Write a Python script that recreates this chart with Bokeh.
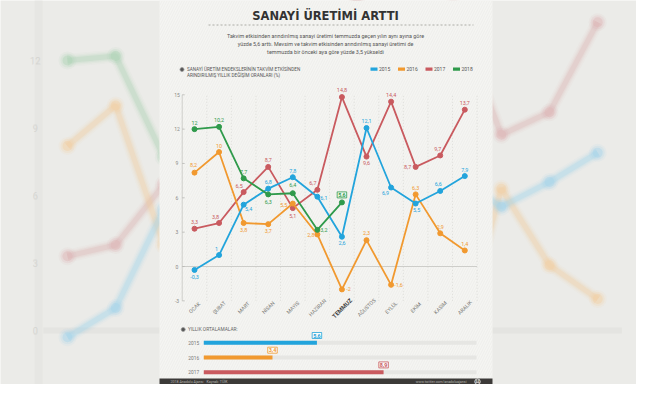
import math
from bokeh.plotting import figure
from bokeh.models import Range1d, ColumnDataSource
from bokeh.core.properties import value
from bokeh.embed import file_html
from bokeh.resources import INLINE

# ---------------- data ----------------
months = ["OCAK", "ŞUBAT", "MART", "NİSAN", "MAYIS", "HAZİRAN", "TEMMUZ",
          "AĞUSTOS", "EYLÜL", "EKİM", "KASIM", "ARALIK"]
y2015 = [-0.3, 1, 5.4, 6.8, 7.8, 6.1, 2.6, 12.1, 6.9, 5.5, 6.6, 7.9]
y2016 = [8.2, 10, 3.8, 3.7, 5.5, 2.8, -2, 2.3, -1.6, 6.3, 2.9, 1.4]
y2017 = [3.3, 3.8, 6.5, 8.7, 5.1, 6.7, 14.8, 9.6, 14.4, 8.7, 9.7, 13.7]
y2018 = [12, 12.2, 7.7, 6.3, 6.4, 3.2, 5.6]
labels2018 = ["12", "10,2", "7,7", "6,3", "6,4", "3,2", "5,6"]
years = ["2015", "2016", "2017", "2018"]
avg_years = ["2015", "2016", "2017"]
avg_values = [5.6, 3.4, 8.9]
yticks = [-3, 0, 3, 6, 9, 12, 15]

title = "SANAYİ ÜRETİMİ ARTTI"
subtitle = ["Takvim etkisinden arındırılmış sanayi üretimi temmuzda geçen yılın aynı ayına göre",
            "yüzde 5,6 arttı. Mevsim ve takvim etkisinden arındırılmış sanayi üretimi de",
            "temmuzda bir önceki aya göre yüzde 3,5 yükseldi"]
legend_title = ["SANAYİ ÜRETİM ENDEKSLERİNİN TAKVİM ETKİSİNDEN",
                "ARINDIRILMIŞ YILLIK DEĞİŞİM ORANLARI (%)"]
avg_title = "YILLIK ORTALAMALAR:"
footer_left = ["2018 Anadolu Ajansı", "Kaynak: TÜİK"]
footer_right = "www.twitter.com/anadoluajansi"

# ---------------- styles / label placement ----------------
colors = ["#22a4dc", "#f1992f", "#c95a5f", "#2f9a4b"]
bg_colors = ["#9fd2ea", "#f3cb9c", "#dcaeb0", "#a6d0b0"]
off2015 = [(0, 7), (-2.5, -6), (5, 4), (0, -6.5), (0, -6), (6.5, 1), (0, 6.5),
           (0, -6.5), (-5.5, 5.5), (1, 6.5), (-2, -6.5), (0, -6)]
off2016 = [(-1, -7.5), (0, -6.5), (0, 6.5), (0, 7), (-9, 1), (-6.5, 0.5), (6.5, 0),
           (0, -7), (7.5, 0.5), (0, -6.5), (0, -6.5), (0, -6.5)]
off2017 = [(0, -6.5), (-3.5, -6.5), (-4.5, -6), (0, -7), (0, 7.5), (-4.5, -7), (0, -7),
           (0, 6.5), (0, -7), (-8, 0.5), (-2.5, -6), (0, -6.5)]
off2018 = [(0, -6.5), (0, -6.5), (0, -6.5), (0, 7.5), (0, -8.5), (6.5, 0), (0, -7.5)]

FONT = value("Roboto")
W, H = 636, 384


def xr(v0, X0, v1, X1):
    s = (v1 - v0) / (X1 - X0)
    return Range1d(v0 - X0 * s, v0 + (W - X0) * s)


def yr(v0, Y0, v1, Y1):
    s = (v1 - v0) / (Y0 - Y1)
    return Range1d(v0 - (H - Y0) * s, v0 + Y0 * s)


def fmt(v):
    return ("%g" % v).replace(".", ",")


p = figure(width=W, height=H, x_range=Range1d(0, W), y_range=Range1d(H, 0),
           output_backend="svg", toolbar_location=None,
           x_axis_type=None, y_axis_type=None, min_border=0,
           background_fill_color="#ebebe8", border_fill_color="#ebebe8",
           outline_line_color=None)
p.grid.visible = False
p.extra_x_ranges = {"m": xr(0, 194, 11, 464.3), "bg": xr(0, 67, 11, 597.2),
                    "bar": xr(0, 203.3, 10, 405.3)}
p.extra_y_ranges = {"m": yr(0, 266, 15, 94.3), "bg": yr(0, 330, 12, 60),
                    "bar": yr(0, 342.3, 2, 371.7)}

idx = list(range(12))
series = [(idx, y2015), (idx, y2016), (idx, y2017), (list(range(len(y2018))), y2018)]

# ---------------- blurred enlarged background ----------------
bgkw = dict(x_range_name="bg", y_range_name="bg")
bg_ticks = [t for t in yticks if 0 <= t <= 12]
p.segment(x0=[-0.5], y0=[0], x1=[11.5], y1=[0], line_color="#dededa", line_width=6, line_alpha=0.5, **bgkw)
p.segment(x0=[-0.6], y0=[-3], x1=[-0.6], y1=[15], line_color="#e2e2de", line_width=8, line_alpha=0.5, **bgkw)
for sz, a in [("10px", 0.25), ("9px", 0.35)]:
    p.text(x=[-0.67] * len(bg_ticks), y=bg_ticks, text=[str(t) for t in bg_ticks], text_font=FONT,
           text_font_size=sz, text_color="#c4c4c0", text_align="center", text_baseline="middle",
           text_alpha=a, **bgkw)
for (xs, ys), c in zip([series[2], series[1], series[0], series[3]],
                       [bg_colors[2], bg_colors[1], bg_colors[0], bg_colors[3]]):
    for lw, a in [(13, 0.06), (10, 0.09), (7.5, 0.14), (5, 0.25)]:
        p.line(xs, ys, line_color=c, line_width=lw, line_alpha=a, **bgkw)
    for sz, a in [(18, 0.1), (14, 0.18), (10, 0.35)]:
        p.scatter(xs, ys, size=sz, fill_color=c, line_color=None, fill_alpha=a, **bgkw)

# ---------------- central panel ----------------
p.quad(left=[159], right=[492], top=[0], bottom=[400], fill_color="#f5f5f2", line_color=None,
       hatch_pattern="/", hatch_color="#e6e6e2", hatch_scale=5, hatch_weight=0.7, hatch_alpha=0.7)
p.quad(left=[159], right=[492], top=[378], bottom=[400], fill_color="#3c3a38", line_color=None)

# title
p.text(x=[325], y=[15.5], text=[title], text_font=value("DejaVu Sans"), text_font_size="11.5px",
       text_font_style="bold", text_color="#333333", text_align="center", text_baseline="middle")
p.segment(x0=[208], y0=[24.5], x1=[473], y1=[24.5], line_color="#9a9a96", line_width=0.8,
          line_dash="2 2")
p.text(x=[325] * 3, y=[35.5, 43.3, 51.1], text=subtitle, text_font=FONT, text_font_size="5.4px",
       text_color="#555555", text_align="center", text_baseline="middle")

# legend
p.scatter([181.5], [69], size=4, fill_color="#555555", line_color="#999999", line_width=0.8)
p.text(x=[186.5, 186.5], y=[69, 75.3], text=legend_title, text_font=FONT, text_font_size="4.6px",
       text_color="#555555", text_align="left", text_baseline="middle")
leg_x = [370, 397.5, 425, 452.5]
p.quad(left=leg_x, right=[v + 7 for v in leg_x], top=[67] * 4, bottom=[70.2] * 4,
       fill_color=colors, line_color=None)
p.text(x=[v + 8.5 for v in leg_x], y=[68.8] * 4, text=years, text_font=FONT,
       text_font_size="5px", text_color="#555555", text_align="left", text_baseline="middle")

# ---------------- main chart ----------------
mk = dict(x_range_name="m", y_range_name="m")
halves = [i + 0.5 for i in idx]
p.segment(x0=halves, y0=[-3] * 12, x1=halves, y1=[15] * 12, line_color="#d5d5d1",
          line_width=0.7, line_dash="1 2", **mk)
p.segment(x0=[-0.5], y0=[-3], x1=[-0.5], y1=[15], line_color="#cfcfcb", line_width=1, **mk)
p.segment(x0=[-0.5], y0=[0], x1=[11.5], y1=[0], line_color="#cdcdc9", line_width=1.2, **mk)
p.segment(x0=[-0.5] * len(yticks), y0=yticks, x1=[-0.4] * len(yticks), y1=yticks,
          line_color="#b8b8b4", line_width=0.8, **mk)
p.text(x=[176.5] * len(yticks), y=yticks, text=[str(t) for t in yticks], text_font=FONT,
       text_font_size="5px", text_color="#8a8a86", text_align="center", text_baseline="middle",
       y_range_name="m")

# month labels
normal = [m for m in months if m != "TEMMUZ"]
p.text(x=[i for i, m in enumerate(months) if m != "TEMMUZ"], y=[307] * len(normal), text=normal,
       angle=math.pi / 4, text_font=FONT, text_font_size="5.2px", text_color="#7a7a76",
       text_align="center", text_baseline="middle", x_range_name="m")
p.text(x=[months.index("TEMMUZ")], y=[307.5], text=["TEMMUZ"], angle=math.pi / 4, text_font=FONT,
       text_font_size="6px", text_font_style="bold", text_color="#444444",
       text_align="center", text_baseline="middle", x_range_name="m")

label_sets = [[fmt(v) for v in y2015], [fmt(v) for v in y2016], [fmt(v) for v in y2017], labels2018]
offs = [off2015, off2016, off2017, off2018]
order = [2, 1, 0, 3]
for k in order:
    xs, ys = series[k]
    p.line(xs, ys, line_color=colors[k], line_width=1.8, **mk)
    p.scatter(xs, ys, size=5, fill_color=colors[k], line_color=colors[k], **mk)
for k in order:
    xs, ys = series[k]
    labs = label_sets[k]
    o = offs[k]
    keep = [j for j in range(len(xs)) if not (k == 3 and j == len(xs) - 1)]
    src = ColumnDataSource(dict(x=[xs[j] for j in keep], y=[ys[j] for j in keep],
                                t=[labs[j] for j in keep], dx=[o[j][0] for j in keep],
                                dy=[o[j][1] for j in keep]))
    p.text(x="x", y="y", text="t", x_offset="dx", y_offset="dy", source=src, text_font=FONT,
           text_font_size="5.4px", text_color=colors[k], text_align="center",
           text_baseline="middle", **mk)
# boxed latest value (2018 TEMMUZ)
j = len(y2018) - 1
p.text(x=[j], y=[y2018[j]], text=[labels2018[j]], x_offset=[off2018[j][0]], y_offset=[off2018[j][1]],
       text_font=FONT, text_font_size="5.4px", text_font_style="bold", text_color=colors[3],
       text_align="center", text_baseline="middle", background_fill_color="#f4faf5",
       border_line_color=colors[3], border_line_width=0.8, padding=1, **mk)

# ---------------- yearly averages ----------------
p.scatter([182.7], [329], size=4, fill_color="#555555", line_color="#999999", line_width=0.8)
p.text(x=[187.5], y=[329], text=[avg_title], text_font=FONT, text_font_size="4.8px",
       text_color="#666666", text_align="left", text_baseline="middle")
rows = list(range(len(avg_years)))
bk = dict(x_range_name="bar", y_range_name="bar")
p.hbar(y=rows, left=[0] * 3, right=[13.5] * 3, height=[0.27] * 3, fill_color="#e6e6e3",
       line_color=None, **bk)
p.hbar(y=rows, left=[0] * 3, right=avg_values, height=[0.27] * 3, fill_color=colors[:3],
       line_color=None, **bk)
p.text(x=[-0.5] * 3, y=rows, text=avg_years, text_font=FONT, text_font_size="4.8px",
       text_color="#777777", text_align="center", text_baseline="middle", **bk)
p.text(x=avg_values, y=rows, text=[fmt(v) for v in avg_values], y_offset=[-7.3] * 3,
       text_font=FONT, text_font_size="5.4px", text_font_style="bold", text_color=colors[:3],
       text_align="center", text_baseline="middle", background_fill_color="#fbfbf9",
       border_line_color=colors[:3], border_line_width=0.8, padding=1, **bk)

# footer
p.text(x=[170, 206], y=[381.2, 381.2], text=footer_left, text_font=FONT,
       text_font_size="3.6px", text_color="#b5b5b0", text_align="left", text_baseline="middle")
p.text(x=[466], y=[381.2], text=[footer_right], text_font=FONT,
       text_font_size="3.6px", text_color="#b5b5b0", text_align="right", text_baseline="middle")
p.scatter([477], [381.2], size=5.5, fill_color=None, line_color="#e8e8e4", line_width=0.9)
p.text(x=[477], y=[381.3], text=["AA"], text_font=FONT, text_font_size="3px",
       text_font_style="bold", text_color="#e8e8e4", text_align="center", text_baseline="middle")

open("out.html", "w").write(file_html(p, INLINE))
